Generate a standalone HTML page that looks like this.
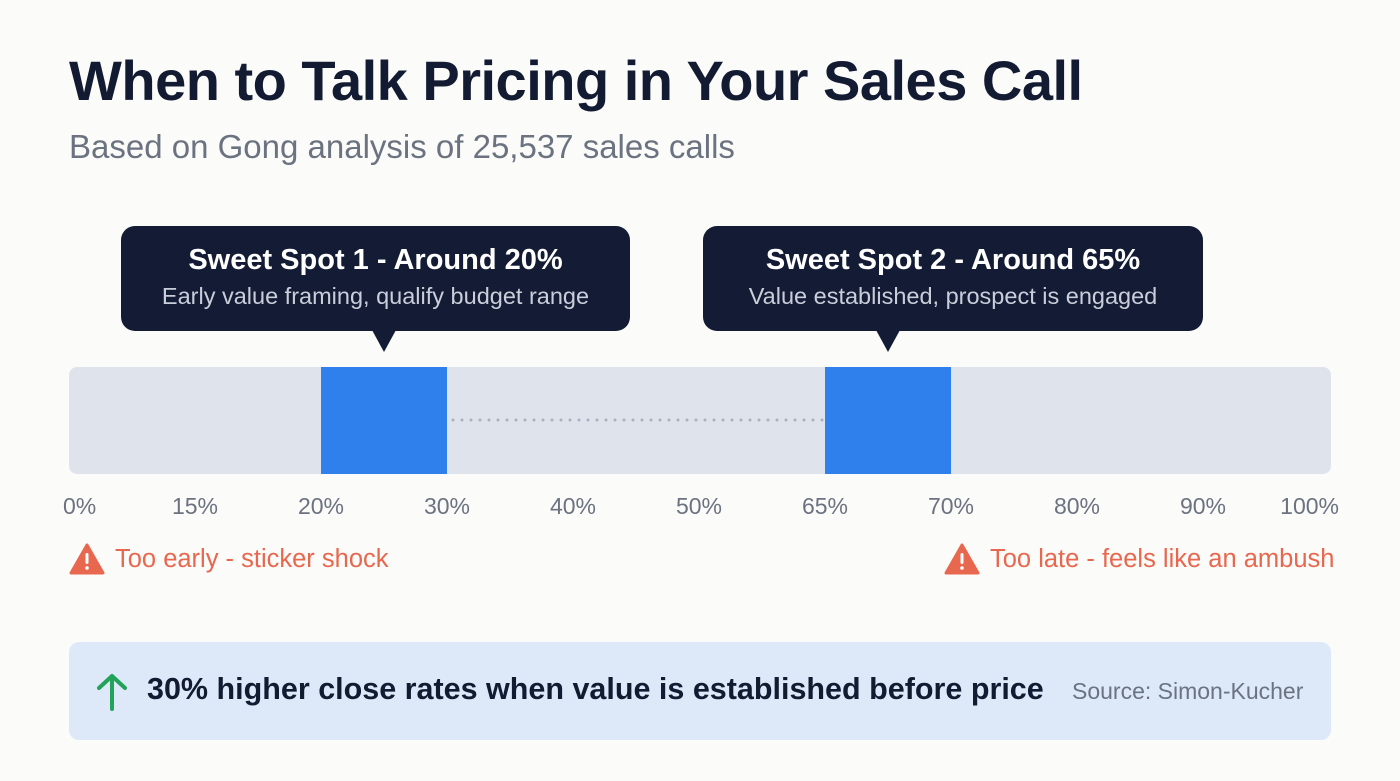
<!DOCTYPE html>
<html><head><meta charset="utf-8"><style>
body{margin:0;width:1400px;height:781px;background:#fbfbf9;font-family:"Liberation Sans",sans-serif;position:relative;overflow:hidden}
.a{position:absolute}
.title{left:69px;top:48px;font-size:56px;font-weight:bold;color:#131b33;letter-spacing:-0.5px}
.sub{left:69px;top:128px;font-size:33px;color:#6b7280}
.call{background:#131c34;border-radius:14px;color:#fff;text-align:center}
.call .h{font-size:29px;font-weight:bold;margin-top:18px}
.call .s{font-size:23.5px;color:#c9ceda;margin-top:6px}
.warn{font-size:25.5px;color:#e8674f;display:flex;align-items:center;gap:10px}
.banner{left:69px;top:642px;width:1262px;height:98px;background:#dde9f8;border-radius:10px}
</style></head><body>
<div class="a title">When to Talk Pricing in Your Sales Call</div>
<div class="a sub">Based on Gong analysis of 25,537 sales calls</div>

<div class="a call" style="left:121px;top:226px;width:509px;height:105px"><div class="h">Sweet Spot 1 - Around 20%</div><div class="s">Early value framing, qualify budget range</div></div>
<div class="a call" style="left:703px;top:226px;width:500px;height:105px"><div class="h">Sweet Spot 2 - Around 65%</div><div class="s">Value established, prospect is engaged</div></div>

<svg class="a" style="left:0;top:0" width="1400" height="781" id="chart"></svg>

<div class="a warn" style="left:69px;top:543px"><svg width="36" height="32" viewBox="0 0 36 32"><path d="M18 2 L34 30 L2 30 Z" fill="#e8674f" stroke="#e8674f" stroke-width="3" stroke-linejoin="round"/><rect x="16.5" y="10" width="3" height="11" rx="1.5" fill="#fff"/><circle cx="18" cy="25" r="1.8" fill="#fff"/></svg>Too early - sticker shock</div>
<div class="a warn" style="left:944px;top:543px"><svg width="36" height="32" viewBox="0 0 36 32"><path d="M18 2 L34 30 L2 30 Z" fill="#e8674f" stroke="#e8674f" stroke-width="3" stroke-linejoin="round"/><rect x="16.5" y="10" width="3" height="11" rx="1.5" fill="#fff"/><circle cx="18" cy="25" r="1.8" fill="#fff"/></svg>Too late - feels like an ambush</div>

<div class="a banner">
<svg class="a" style="left:26px;top:30px" width="34" height="40" viewBox="0 0 34 40"><path d="M17 37 V4 M4 16 L17 4 L30 16" stroke="#22a35a" stroke-width="4" fill="none" stroke-linecap="round" stroke-linejoin="round"/></svg>
<div class="a" style="left:78px;top:30px;font-size:30.5px;font-weight:bold;color:#131b33;white-space:nowrap">30% higher close rates when value is established before price</div>
<div class="a" style="left:1003px;top:36px;font-size:23px;color:#6b7280">Source: Simon-Kucher</div>
</div>

<script>
const tickLabels=["0%","15%","20%","30%","40%","50%","65%","70%","80%","90%","100%"];
const spotStart=[2,6];
const spotEnd=[3,7];
const svg=document.getElementById('chart');
const NS='http://www.w3.org/2000/svg';
const x0=69,x1=1331,step=126;
const xi=i=>x0+i*step;
function mk(t,a){const e=document.createElementNS(NS,t);for(const k in a)e.setAttribute(k,a[k]);svg.appendChild(e);return e;}
const track=mk('rect',{x:x0,y:367,width:x1-x0,height:107,rx:8,fill:'#dfe3ec'});


for(let k=0;k<spotStart.length;k++){
 const r=mk('rect',{x:xi(spotStart[k]),y:367,width:xi(spotEnd[k])-xi(spotStart[k]),height:107,fill:'#2f80ed'});
 
 
 const cx=(xi(spotStart[k])+xi(spotEnd[k]))/2;
 const p=mk('path',{d:`M${cx-12} 330 L${cx} 352 L${cx+12} 330 Z`,fill:'#131c34'});
 
 
}
const l=mk('line',{x1:xi(spotEnd[0])+6,x2:xi(spotStart[1]),y1:420,y2:420,stroke:'#a9b0bf','stroke-width':3,'stroke-dasharray':'0 9','stroke-linecap':'round'});


tickLabels.forEach((t,i)=>{
 const anchor=i===0?'start':(i===tickLabels.length-1?'end':'middle');
 const x=i===0?x0-6:(i===tickLabels.length-1?x1+8:xi(i));
 const e=mk('text',{x:x,y:514,'text-anchor':anchor,'font-size':23,fill:'#6b7280','font-family':'Liberation Sans, sans-serif'});
 e.textContent=t;
 
 
});
</script>
</body></html>
